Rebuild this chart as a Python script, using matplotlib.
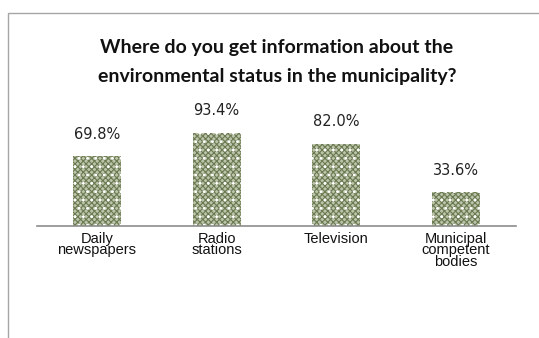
import matplotlib
matplotlib.use("Agg")
import matplotlib.pyplot as plt
from matplotlib.patches import Rectangle

categories = ["Daily\nnewspapers", "Radio\nstations", "Television",
              "Municipal\ncompetent\nbodies"]
values = [69.8, 93.4, 82.0, 33.6]
value_labels = ["69.8%", "93.4%", "82.0%", "33.6%"]
title = "Where do you get information about the\nenvironmental status in the municipality?"

plt.rcParams['hatch.linewidth'] = 0.8

fig = plt.figure(figsize=(5.39, 3.38), dpi=100)
ax = fig.add_axes([37/539, 112/338, 479/539, 100/338])

x = list(range(len(values)))
# dense green mesh, then sparse white dots on top
ax.bar(x, values, width=0.40, color="#bcc4a9", edgecolor="#6a7952",
       linewidth=0, hatch="xxxxxx")
ax.bar(x, values, width=0.40, color="none", edgecolor="white",
       linewidth=0, hatch="..")

for xi, v, lab in zip(x, values, value_labels):
    ax.annotate(lab, (xi, v), xytext=(0, 10.5), textcoords="offset points",
                ha="center", va="bottom", fontsize=10.5, color="#222222",
                family="DejaVu Sans")

ax.set_xlim(-0.5, 3.5)
ax.set_ylim(0, 100)
ax.set_yticks([])
ax.set_xticks(x)
ax.set_xticklabels(categories, fontsize=10.5, linespacing=0.8,
                   family=["Liberation Sans Narrow", "Liberation Sans"])
ax.tick_params(axis="x", length=0, pad=4, colors="#111111")
for s in ["top", "right", "left"]:
    ax.spines[s].set_visible(False)
ax.spines["bottom"].set_color("#8c8c8c")
ax.spines["bottom"].set_linewidth(1.2)

fig.text(277/539, 1 - 62/338, title, ha="center", va="center",
         fontsize=14, fontweight="bold", family="Lato", linespacing=1.8,
         color="#111111")

# outer frame of the chart area
fig.patches.append(Rectangle((8/539, -0.1), 1.0, 1 - 13/338 + 0.1,
                             transform=fig.transFigure, fill=False,
                             edgecolor="#a6a6a6", linewidth=1.0))

fig.savefig("out.png", dpi=100)
